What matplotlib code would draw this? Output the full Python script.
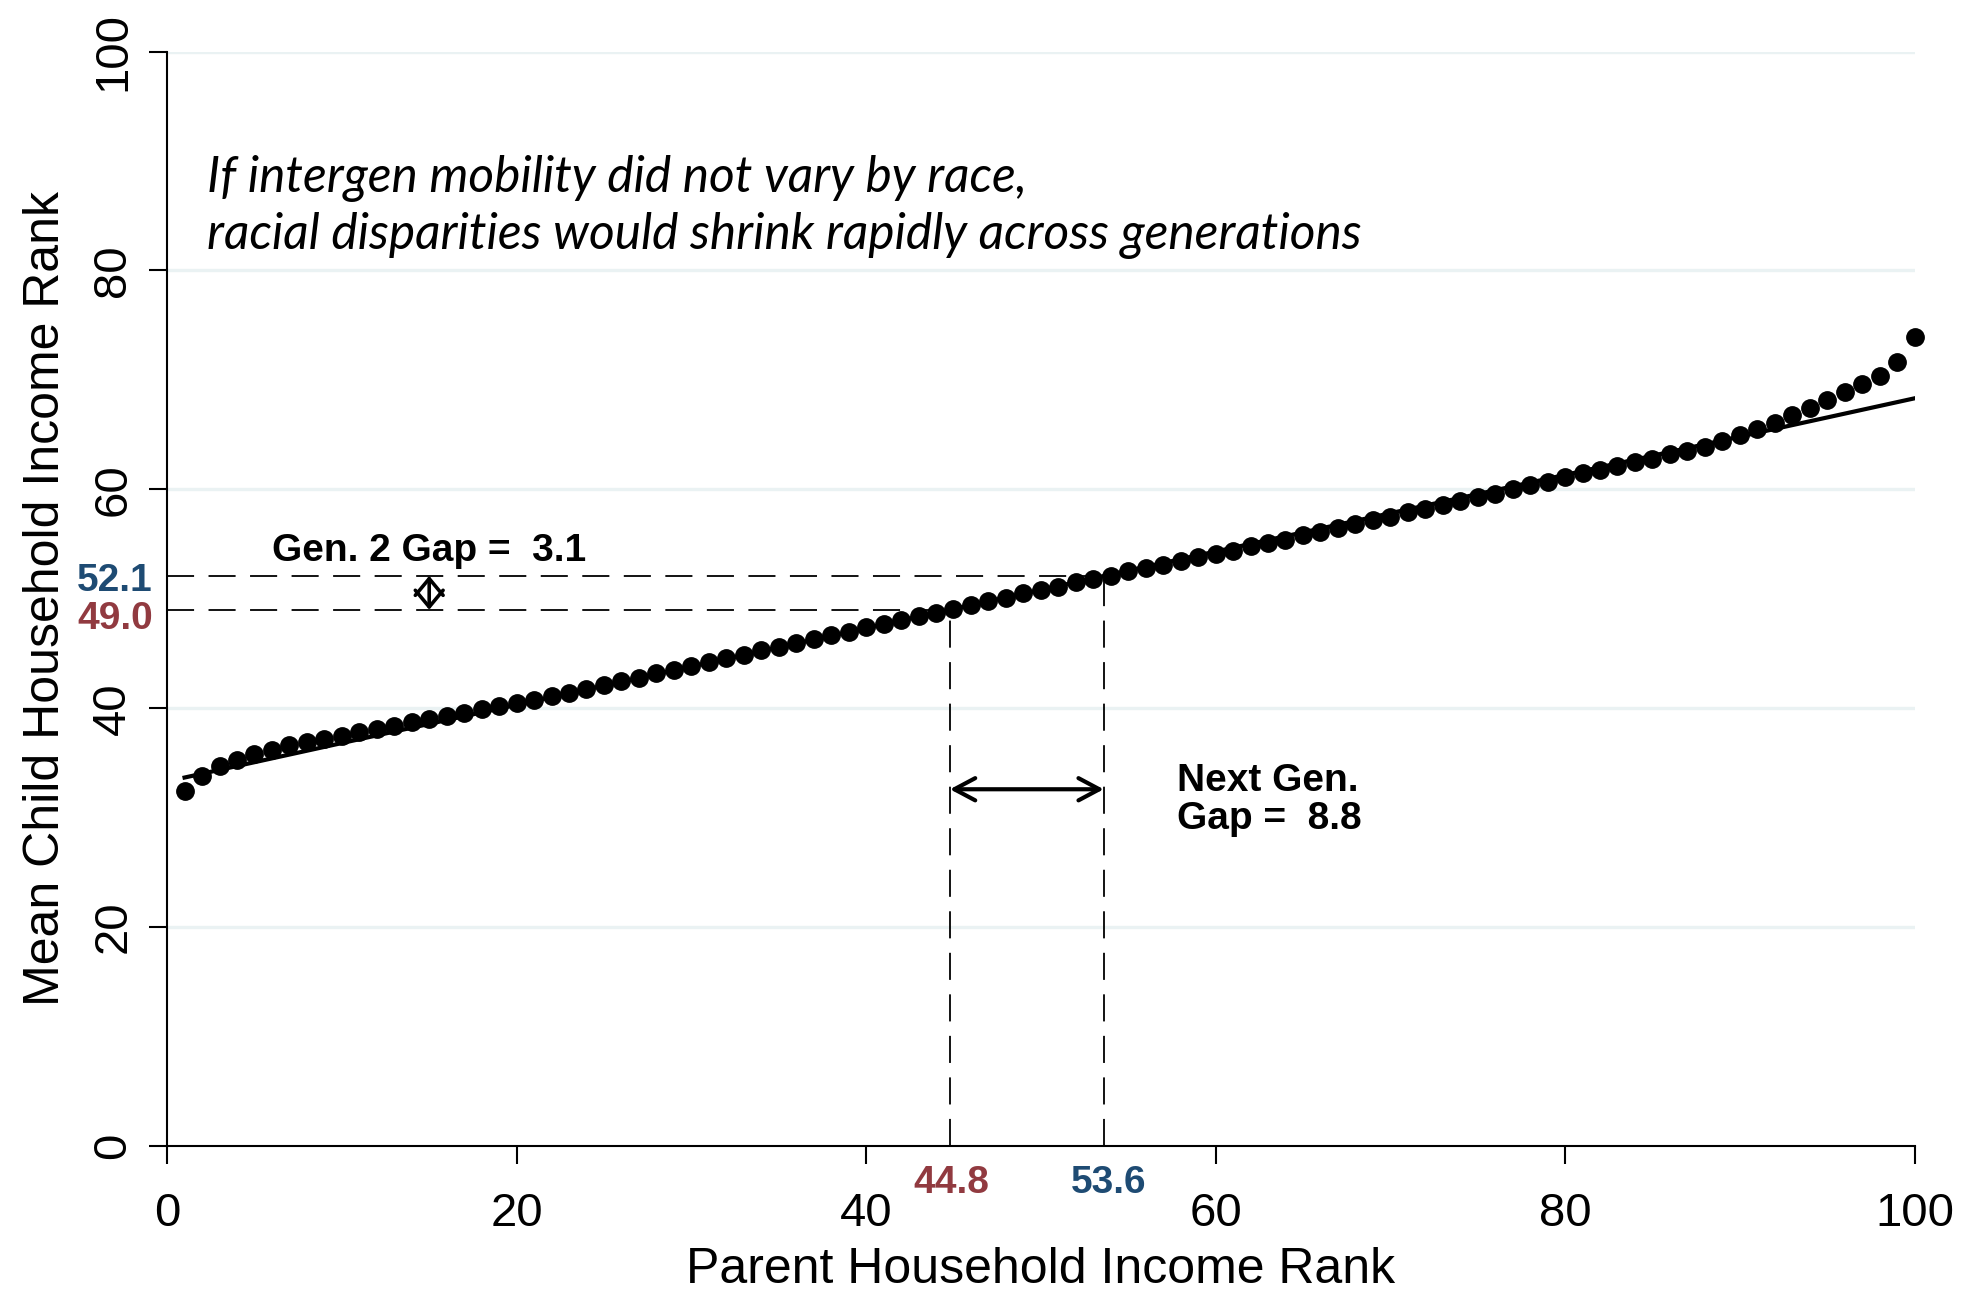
import numpy as np
import matplotlib
matplotlib.use("Agg")
import matplotlib.pyplot as plt

plt.rcParams["font.family"] = ["Liberation Sans", "DejaVu Sans"]

# parent rank percentiles and mean child rank
parent_rank = list(range(1, 101))
child_rank = [
    32.4, 33.8, 34.7, 35.3, 35.8, 36.2, 36.6, 36.9, 37.2, 37.5,
    37.8, 38.1, 38.4, 38.7, 39.0, 39.3, 39.6, 39.9, 40.2, 40.5,
    40.8, 41.1, 41.4, 41.8, 42.1, 42.5, 42.8, 43.2, 43.5, 43.9,
    44.2, 44.6, 44.9, 45.3, 45.6, 46.0, 46.3, 46.7, 47.0, 47.4,
    47.7, 48.1, 48.4, 48.7, 49.1, 49.4, 49.8, 50.1, 50.5, 50.8,
    51.1, 51.5, 51.8, 52.1, 52.5, 52.8, 53.1, 53.5, 53.8, 54.1,
    54.4, 54.8, 55.1, 55.4, 55.8, 56.1, 56.5, 56.8, 57.2, 57.5,
    57.9, 58.2, 58.6, 58.9, 59.3, 59.6, 60.0, 60.4, 60.7, 61.1,
    61.5, 61.8, 62.1, 62.5, 62.8, 63.2, 63.5, 63.9, 64.4, 65.0,
    65.5, 66.1, 66.8, 67.4, 68.2, 68.9, 69.6, 70.4, 71.6, 73.9,
]

# linear fit end points
fit_x = [1, 100]
fit_y = [33.67, 68.32]

gen2_black, gen2_white = 49.0, 52.1
next_black, next_white = 44.8, 53.6

red = "#913a40"
blue = "#1e4b73"
grid_col = "#eaf2f3"

fig = plt.figure(figsize=(19.75, 12.96), dpi=100)
ax = fig.add_axes([0.0846, 0.1157, 0.8848, 0.8445])

ax.set_xlim(0, 100)
ax.set_ylim(0, 100)

for g in [20, 40, 60, 80, 100]:
    ax.axhline(g, color=grid_col, lw=2.4, zorder=0)

ax.plot(fit_x, fit_y, color="black", lw=3, zorder=2)
ax.plot(parent_rank, child_rank, "o", color="black", ms=12.5, zorder=3, clip_on=False)

dash = dict(color="black", lw=1.3, dashes=(15, 8), zorder=1)
ax.plot([0, next_white], [gen2_white, gen2_white], **dash)
ax.plot([0, next_black], [gen2_black, gen2_black], **dash)
ax.plot([next_black, next_black], [0, gen2_black], **dash)
ax.plot([next_white, next_white], [0, gen2_white], **dash)

# small diamond arrow for gen 2 gap
ax.annotate("", xy=(15, gen2_white), xytext=(15, gen2_black),
            arrowprops=dict(arrowstyle="<->,head_length=0.6,head_width=0.5",
                            mutation_scale=20, lw=2.6, color="black",
                            shrinkA=0, shrinkB=0))
# next gen arrow
ax.annotate("", xy=(next_white, 32.6), xytext=(next_black, 32.6),
            arrowprops=dict(arrowstyle="<->,head_length=0.75,head_width=0.4",
                            mutation_scale=20, lw=3, color="black",
                            shrinkA=0, shrinkB=0))

ax.text(6.0, 54.4, "Gen. 2 Gap =  3.1", fontsize=28, fontweight="bold", va="center")
ax.text(57.8, 31.6, "Next Gen.\nGap =  8.8", fontsize=28, fontweight="bold",
        va="center", linespacing=1.05)

ax.text(-0.8, 51.6, "52.1", color=blue, fontsize=28, fontweight="bold",
        ha="right", va="center", clip_on=False)
ax.text(-0.8, 48.2, "49.0", color=red, fontsize=28, fontweight="bold",
        ha="right", va="center", clip_on=False)
ax.text(44.9, -3.4, "44.8", color=red, fontsize=28, fontweight="bold",
        ha="center", va="center", clip_on=False)
ax.text(53.9, -3.4, "53.6", color=blue, fontsize=28, fontweight="bold",
        ha="center", va="center", clip_on=False)

ax.text(2.3, 85.8, "If intergen mobility did not vary by race,\n"
        "racial disparities would shrink rapidly across generations",
        fontsize=35.7, style="italic", family=["Lato", "DejaVu Sans"],
        va="center", linespacing=1.27)

for s in ["top", "right"]:
    ax.spines[s].set_visible(False)
for s in ["left", "bottom"]:
    ax.spines[s].set_linewidth(1.5)

ax.set_xticks([0, 20, 40, 60, 80, 100])
ax.set_yticks([0, 20, 40, 60, 80, 100])
ax.tick_params(axis="x", length=13, width=1.5, labelsize=34, pad=20)
ax.tick_params(axis="y", length=13, width=1.5, labelsize=34, pad=10)
plt.setp(ax.get_yticklabels(), rotation=90, va="center")

ax.set_xlabel("Parent Household Income Rank", fontsize=36, labelpad=8)
ax.set_ylabel("Mean Child Household Income Rank", fontsize=36, labelpad=16)

fig.savefig("out.png", dpi=100)
